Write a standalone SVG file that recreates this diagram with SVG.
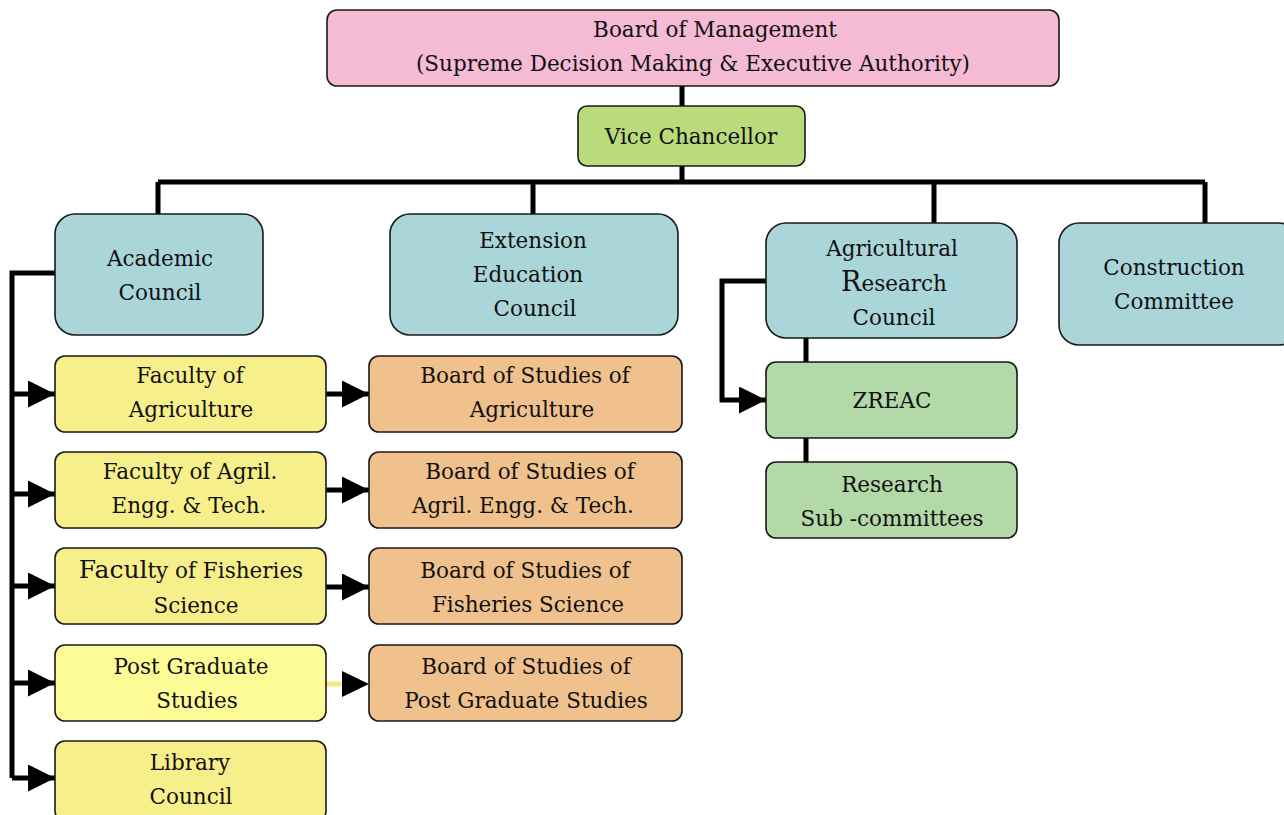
<svg xmlns="http://www.w3.org/2000/svg" width="1284" height="815" viewBox="0 0 1284 815">
<style>
.b{stroke:#1a1a1a;stroke-width:1.6}
.t{font-family:"DejaVu Serif","Liberation Serif",serif;font-size:21.5px;fill:#111;text-anchor:middle}
.c{stroke:#000;stroke-width:5;fill:none}
</style>
<defs>
<marker id="ah" viewBox="0 0 10 10" refX="10" refY="5" markerWidth="5.4" markerHeight="5.4" markerUnits="strokeWidth" orient="auto"><path d="M0,0L10,5L0,10z" fill="#000"/></marker>
</defs>
<rect width="1284" height="815" fill="#fff"/>
<g id="connectors">
<path class="c" d="M682,86V106M682,166V182M158,182H1205M158,182V214M533,182V214M934,182V223M1205,182V223"/>
<path class="c" d="M55,273H12V778"/>
<path class="c" d="M12,394H55" marker-end="url(#ah)"/>
<path class="c" d="M12,494H55" marker-end="url(#ah)"/>
<path class="c" d="M12,586H55" marker-end="url(#ah)"/>
<path class="c" d="M12,683H55" marker-end="url(#ah)"/>
<path class="c" d="M12,778H55" marker-end="url(#ah)"/>
<path class="c" d="M326,394H369" marker-end="url(#ah)"/>
<path class="c" d="M326,490H369" marker-end="url(#ah)"/>
<path class="c" d="M326,587H369" marker-end="url(#ah)"/>
<path d="M326,684H342" stroke="#f0ea80" stroke-width="5"/>
<path d="M342,671L369,684L342,697z" fill="#000"/>
<path class="c" d="M766,281H722V400H766" marker-end="url(#ah)"/>
<path class="c" d="M806,338V362M806,438V462"/>
</g>
<g id="board"><rect class="b" x="327" y="10" width="732" height="76" rx="10" fill="#f5bad4"/><text class="t" x="715" y="37">Board of Management</text><text class="t" x="693" y="71">(Supreme Decision Making &amp; Executive Authority)</text></g>
<g id="vc"><rect class="b" x="578" y="106" width="227" height="60" rx="9" fill="#b9db7c"/><text class="t" x="691" y="144">Vice Chancellor</text></g>
<g id="academic"><rect class="b" x="55" y="214" width="208" height="121" rx="20" fill="#aad6da"/><text class="t" x="160" y="266">Academic</text><text class="t" x="160" y="300">Council</text></g>
<g id="extension"><rect class="b" x="390" y="214" width="288" height="121" rx="20" fill="#aad6da"/><text class="t" x="533" y="248">Extension</text><text class="t" x="528" y="282">Education</text><text class="t" x="535" y="316">Council</text></g>
<g id="arc"><rect class="b" x="766" y="223" width="251" height="115" rx="20" fill="#aad6da"/><text class="t" x="892" y="256">Agricultural</text><text class="t" x="894" y="291"><tspan font-size="27">R</tspan>esearch</text><text class="t" x="894" y="325">Council</text></g>
<g id="construction"><rect class="b" x="1059" y="223" width="240" height="122" rx="20" fill="#aad6da"/><text class="t" x="1174" y="275">Construction</text><text class="t" x="1174" y="309">Committee</text></g>
<g id="fac-agri"><rect class="b" x="55" y="356" width="271" height="76" rx="10" fill="#f7f08a"/><text class="t" x="190" y="383">Faculty of</text><text class="t" x="191" y="417">Agriculture</text></g>
<g id="fac-engg"><rect class="b" x="55" y="452" width="271" height="76" rx="10" fill="#f7f08a"/><text class="t" x="190" y="479">Faculty of Agril.</text><text class="t" x="189" y="513">Engg. &amp; Tech.</text></g>
<g id="fac-fish"><rect class="b" x="55" y="548" width="271" height="76" rx="10" fill="#f7f08a"/><text class="t" x="191" y="578"><tspan font-size="25">Facul</tspan>ty of Fisheries</text><text class="t" x="196" y="613">Science</text></g>
<g id="pg"><rect class="b" x="55" y="645" width="271" height="76" rx="10" fill="#fdfb96"/><text class="t" x="191" y="674">Post Graduate</text><text class="t" x="197" y="708">Studies</text></g>
<g id="library"><rect class="b" x="55" y="741" width="271" height="80" rx="10" fill="#f7f08a"/><text class="t" x="190" y="770">Library</text><text class="t" x="191" y="804">Council</text></g>
<g id="bos-agri"><rect class="b" x="369" y="356" width="313" height="76" rx="10" fill="#f0c18c"/><text class="t" x="525" y="383">Board of Studies of</text><text class="t" x="532" y="417">Agriculture</text></g>
<g id="bos-engg"><rect class="b" x="369" y="452" width="313" height="76" rx="10" fill="#f0c18c"/><text class="t" x="530" y="479">Board of Studies of</text><text class="t" x="523" y="513">Agril. Engg. &amp; Tech.</text></g>
<g id="bos-fish"><rect class="b" x="369" y="548" width="313" height="76" rx="10" fill="#f0c18c"/><text class="t" x="525" y="578">Board of Studies of</text><text class="t" x="528" y="612">Fisheries Science</text></g>
<g id="bos-pg"><rect class="b" x="369" y="645" width="313" height="76" rx="10" fill="#f0c18c"/><text class="t" x="526" y="674">Board of Studies of</text><text class="t" x="526" y="708">Post Graduate Studies</text></g>
<g id="zreac"><rect class="b" x="766" y="362" width="251" height="76" rx="10" fill="#b3d9a8"/><text class="t" x="892" y="408">ZREAC</text></g>
<g id="subcom"><rect class="b" x="766" y="462" width="251" height="76" rx="10" fill="#b3d9a8"/><text class="t" x="892" y="492">Research</text><text class="t" x="892" y="526">Sub -committees</text></g>
</svg>
